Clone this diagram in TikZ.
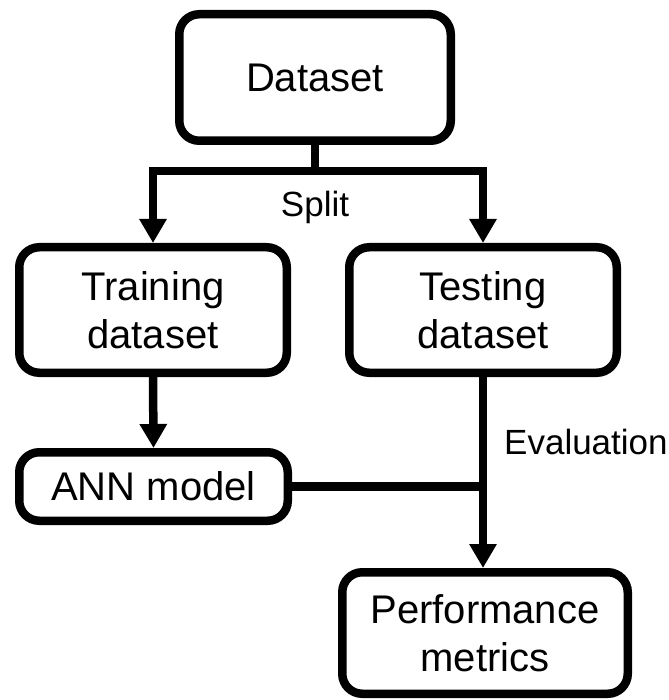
\documentclass[tikz,border=0pt]{standalone}
\usepackage{fontspec}
\setmainfont{Liberation Sans}
\usetikzlibrary{arrows.meta}
\begin{document}
\begin{tikzpicture}[x=1pt,y=-1pt,
  boxstyle/.style={draw=black, line width=8.5pt, rounded corners=20pt, inner sep=0pt,
    align=center, font=\fontsize{40}{48}\selectfont},
  conn/.style={line width=8.5pt},
  arr/.style={line width=8.5pt, -{Triangle[width=26pt,length=24pt]}},
  lbl/.style={font=\fontsize{35}{42}\selectfont, inner sep=0pt}]
\useasboundingbox (0,0) rectangle (668,700);
\node[boxstyle, minimum width=271.5pt, minimum height=126.5pt] (D) at (315,77.5) {Dataset};
\node[boxstyle, minimum width=267.5pt, minimum height=125.5pt] (Tr) at (153,310) {Training\\dataset};
\node[boxstyle, minimum width=267.5pt, minimum height=125.5pt] (Te) at (483,310) {Testing\\dataset};
\node[boxstyle, minimum width=268.5pt, minimum height=68.5pt] (A) at (153.5,486.5) {ANN model};
\node[boxstyle, minimum width=285.5pt, minimum height=121.5pt] (P) at (485,633) {Performance\\metrics};
\draw[conn] (D.south) -- (315,171) coordinate (sp);
\draw[arr] (sp) -| (Tr.north);
\draw[arr] (sp) -| (Te.north);
\node[lbl] (split) at (315,207) {Split};
\draw[arr] (Tr.south) -- (A.north);
\draw[arr] (Te.south) -- (Te.south |- P.north);
\draw[conn] (A.east) -- (A.east -| Te.south);
\node[lbl, anchor=west] (ev) at (504,442) {Evaluation};
\end{tikzpicture}
\end{document}
